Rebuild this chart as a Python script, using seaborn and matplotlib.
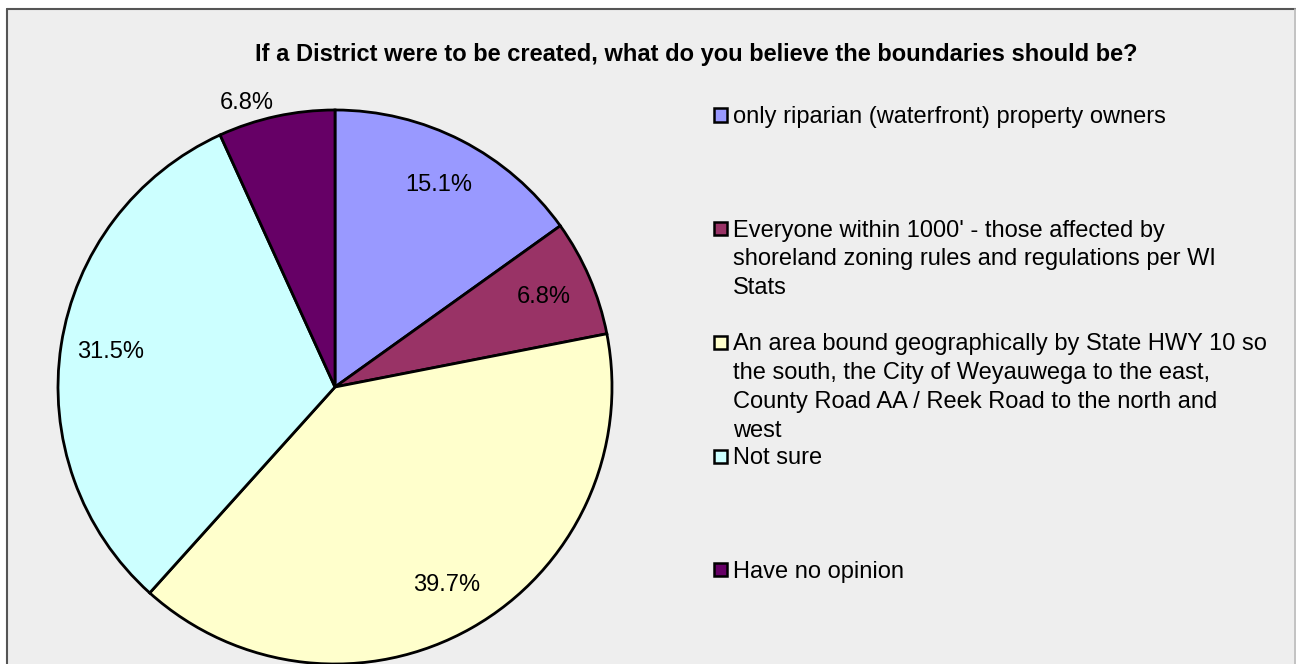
import numpy as np
import seaborn as sns
import matplotlib.pyplot as plt
from matplotlib.patches import Rectangle
from matplotlib.lines import Line2D

# ---------- data ----------
categories = [
    "only riparian (waterfront) property owners",
    "Everyone within 1000' - those affected by\nshoreland zoning rules and regulations per WI\nStats",
    "An area bound geographically by State HWY 10 so\nthe south, the City of Weyauwega to the east,\nCounty Road AA / Reek Road to the north and\nwest",
    "Not sure",
    "Have no opinion",
]
shares = [15.1, 6.8, 39.7, 31.5, 6.8]
colors = ["#9999FF", "#993366", "#FFFFCC", "#CCFFFF", "#660066"]
title = "If a District were to be created, what do you believe the boundaries should be?"

sns.set_style("white")
plt.rcParams['font.family'] = ['Liberation Sans', 'DejaVu Sans']
plt.rcParams['text.color'] = 'black'

W, H = 1296, 664
FS = 17
fig = plt.figure(figsize=(W / 100, H / 100), dpi=100, facecolor='white')

# chart area background + frame
fig.patches.append(Rectangle((7 / W, 0), 1 - 7 / W, 1 - 9 / H, transform=fig.transFigure,
                             facecolor='#EEEEEE', edgecolor='none', zorder=-5))
fig.add_artist(Line2D([7 / W, 1], [1 - 9 / H, 1 - 9 / H], color='#555555', lw=1.5))
fig.add_artist(Line2D([7 / W, 7 / W], [0, 1 - 9 / H], color='#555555', lw=1.5))
fig.add_artist(Line2D([1 - 1 / W, 1 - 1 / W], [0, 1 - 9 / H], color='#BBBBBB', lw=1.2))

# ---------- pie ----------
R = 277
cx, cy = 335, 387
ax = fig.add_axes([(cx - R) / W, (H - cy - R) / H, 2 * R / W, 2 * R / H], zorder=2)
ax.set_facecolor('none')
wedges, _ = ax.pie(shares, colors=sns.color_palette(colors), startangle=90, counterclock=False,
                   wedgeprops={'edgecolor': 'black', 'linewidth': 2, 'clip_on': False})
ax.set_xlim(-1, 1)
ax.set_ylim(-1, 1)
ax.set_aspect('equal')
ax.axis('off')

# data labels (last one sits outside, like excel's best fit)
dist = [0.82, 0.82, 0.82, 0.82, 1.05]
for w, val, d in zip(wedges, shares, dist):
    ang = np.deg2rad((w.theta1 + w.theta2) / 2)
    x, y = d * np.cos(ang), d * np.sin(ang)
    ha = 'right' if d > 1 else 'center'
    ax.text(x, y, f"{val:.1f}%", ha=ha, va='center', fontsize=FS, color='black', clip_on=False)

# title
fig.text(696 / W, 1 - 54 / H, title, ha='center', va='center', fontsize=FS,
         fontweight='bold', color='black')

# legend, one slot per entry
for i, (lab, col) in enumerate(zip(categories, colors)):
    yc = 115 + i * 113.7
    fig.patches.append(Rectangle((714 / W, 1 - (yc + 6.5) / H), 13 / W, 13 / H,
                                 transform=fig.transFigure, facecolor=col,
                                 edgecolor='black', lw=1.8))
    fig.text(733 / W, 1 - (yc - 9) / H, lab, ha='left', va='top', fontsize=FS,
             linespacing=1.4, color='black')

fig.savefig('out.png', dpi=100, facecolor='white')
